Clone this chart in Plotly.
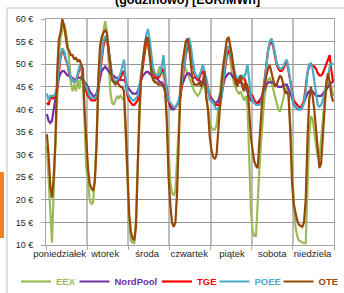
import plotly.graph_objects as go

days = ["poniedziałek", "wtorek", "środa", "czwartek", "piątek", "sobota", "niedziela"]
y_ticks = [10, 15, 20, 25, 30, 35, 40, 45, 50, 55, 60]

EEX = [
    32, 25, 15, 10.5, 22, 33, 44, 52, 56, 57.5, 59, 57.5, 55, 51, 46, 44, 45.5, 44, 46.5, 44.5, 47.5, 47, 36, 27,
    24, 20, 19, 19.5, 25, 35, 45, 52, 55, 57, 59.5, 57.5, 50, 44, 41.5, 41, 42, 43, 42.5, 43, 42.5, 42, 34, 22,
    15, 11, 10.5, 10.4, 16, 28, 40, 47, 51, 53, 54.5, 54, 51.5, 48.5, 47, 46.5, 47, 48.5, 49.5, 48.5, 47.5, 45.5, 38, 30,
    24, 21.5, 21, 22, 29, 38, 44, 47.5, 49.5, 49, 48, 47, 46, 45, 44, 43.5, 43, 43.5, 44.5, 45, 45.5, 43, 40, 37,
    36, 35.5, 35.5, 36.5, 40, 44, 47.5, 50, 52, 53.5, 53, 51, 48, 46, 45, 44, 43.5, 44, 43, 42, 43, 41, 30, 18,
    13, 12, 12, 21, 27, 33, 39, 43, 45, 46.5, 47, 46, 44.5, 43, 41, 40, 39.5, 41, 43, 44, 45, 43, 37, 28,
    20, 14, 12, 11, 10.8, 10.5, 10.4, 10.4, 22, 34, 38.5, 38, 35, 32, 29.5, 29, 33, 38, 42, 44, 45.5, 46, 45, 43,
]
NordPool = [
    39, 37.5, 37, 37.5, 40, 42.5, 45, 47, 48, 48.5, 48.5, 48, 47.5, 47.5, 47, 47, 46.5, 46.5, 47, 47, 47, 46.5, 46, 45.5,
    45, 44, 43.5, 43, 43, 43.5, 45, 47, 48.5, 49, 49.5, 49, 48.5, 48, 47.5, 47.5, 47, 47, 46.5, 46.5, 46.5, 46.5, 46, 45,
    44.5, 44, 43.5, 43.5, 43.5, 44, 45.5, 46.5, 47.5, 48, 48.3, 48.3, 48, 47.5, 47, 47, 47, 46.5, 46, 46, 45.5, 44.5, 43, 41.5,
    40.5, 40, 40, 40.5, 41, 42, 44, 45.5, 46.5, 47.5, 48, 48, 47.5, 47, 47, 47, 46.5, 46.5, 46, 46, 45.5, 45, 44, 43,
    42.5, 42, 41.5, 41.5, 42, 43, 44.5, 46, 47, 47.5, 48, 48, 47.5, 47, 46.5, 46, 46, 46, 45.5, 45.5, 45, 44, 43, 42,
    42, 41.5, 41.3, 41.5, 42, 42.5, 43.5, 44.5, 45.5, 46, 46, 46, 46, 45.5, 45.5, 45, 45, 45, 45.5, 45.5, 45.5, 44.5, 43.5, 42.5,
    41, 40.5, 40.2, 40, 40, 40.5, 41.5, 42.5, 43.5, 44, 44, 44, 43.5, 43, 43, 43, 43, 43.5, 44, 44.5, 45, 45.5, 46, 46,
]
TGE = [
    41.5, 41, 42.5, 42.5, 42.5, 43, 44.5, 48, 51.5, 53, 52.5, 51, 50, 48, 47, 46.5, 46, 46.5, 47.5, 49, 49.5, 46.5, 45, 44,
    43, 42.5, 42, 42, 42, 42.5, 44, 48, 51, 54, 55.5, 56, 53, 50, 47.5, 46.5, 46, 46, 46.5, 47, 48, 48.5, 46, 43,
    42, 41.5, 41, 41, 41.5, 42, 44, 47, 50, 53, 55, 56, 54, 51, 48.5, 47.5, 47, 47, 47.5, 48.5, 49, 47, 44, 42,
    41, 40.5, 40.5, 40.5, 41, 41.5, 43, 46, 49, 52, 53.5, 54, 52.5, 50, 48, 47, 46.5, 47, 48, 48.5, 47, 46.5, 44.5, 43,
    42, 41.5, 41, 41, 41, 41.5, 43, 46, 49.5, 52, 53, 52.5, 50.5, 48.5, 47, 46.5, 46, 46.5, 47, 47, 46, 45, 44, 43.5,
    43, 42, 41.5, 41.5, 41.5, 42, 43.5, 46.5, 50, 53, 54.5, 55, 54, 52, 50, 49, 48.5, 48.5, 49, 50, 50.5, 48.5, 46, 43.5,
    42, 41.5, 41, 40.5, 40.5, 41, 42, 45, 48, 49.5, 50, 49.5, 49.5, 49, 48, 47.5, 47.5, 48, 49, 50, 51, 52, 48.5, 46,
]
POEE = [
    43.5, 42, 43, 43, 43, 43.5, 45, 49, 52, 53.5, 53, 51.5, 50, 48.5, 47, 46.5, 46, 46.5, 48, 49.5, 50, 47, 45.5, 45,
    44, 43, 42.5, 42.5, 42.5, 43, 45, 49, 52, 55, 56, 56.5, 53.5, 50, 47.5, 46.5, 46, 46.5, 47, 48, 49.5, 51, 47, 43.5,
    43, 42.5, 42, 42, 42.5, 43, 45, 48, 51.5, 54.5, 56.5, 57.8, 55.5, 52, 49, 48, 47.5, 47.5, 48, 49.5, 52, 48, 44, 42,
    41.5, 41, 40.5, 40.5, 41, 42, 44, 47, 50, 53, 55, 55.8, 54, 51, 48.5, 47.5, 47, 47.5, 48.5, 50, 48, 47, 44, 42,
    42, 41.5, 40.5, 40, 40, 40.5, 43, 47, 51, 53.5, 54, 53, 51, 49, 47.5, 47, 47, 47.5, 47.5, 47, 48, 50, 46, 43,
    42, 41.5, 41, 41, 41, 41.5, 43, 46, 50, 53, 55, 55.7, 54.5, 52.5, 50.5, 49.5, 49, 49, 49.5, 50.5, 51, 49, 46, 43,
    41, 40.5, 40.5, 40, 40, 40.5, 41.5, 44, 48, 50, 50.2, 49, 46, 43, 41, 40.6, 41, 42, 43.5, 45, 47, 49.5, 50.2, 50,
]
OTE = [
    34.5, 30, 23, 20.5, 25, 33, 48, 55.5, 57, 60, 58.5, 56, 53.5, 53, 52, 52, 51, 51.5, 50.5, 51, 50, 49, 40, 32,
    27, 23.5, 22.5, 22, 24, 32, 47, 54, 56, 57, 57.5, 57, 53, 49, 46.5, 46, 45.5, 46, 45.5, 45, 45, 44, 36, 24,
    17, 13, 11.5, 11, 14, 27, 40, 47, 51, 54, 56, 55.5, 52, 48, 46.5, 46, 46, 45.5, 45.5, 45.5, 45, 44, 37, 25,
    19, 15, 14, 15, 22, 35, 45, 50, 53, 55, 55.7, 54, 50, 46.5, 45.5, 45.5, 45.5, 46, 45, 46, 48.5, 42.5, 40, 34,
    31, 29.5, 29, 30, 36, 42, 46, 50, 53, 55.5, 56, 54, 52, 49, 46, 45, 46.5, 47.5, 45, 44, 46, 45, 40, 34,
    31, 28.5, 27.5, 27, 33, 40, 44, 45.5, 47, 49, 49.8, 48, 46, 45, 45.5, 46.5, 47.5, 47, 45, 43.5, 44, 43, 35, 24,
    19, 17, 15.5, 14.5, 14.2, 14, 15, 20, 33, 42, 45, 43, 40, 36, 32, 27, 28, 35, 42, 46, 48, 46, 43, 41.7,
]

series = [
    ("EEX", EEX, "#9BBB59"),
    ("NordPool", NordPool, "#7030A0"),
    ("TGE", TGE, "#FF0000"),
    ("POEE", POEE, "#4BACC6"),
    ("OTE", OTE, "#984807"),
]
# left edge (px) of each legend entry
legend_px = [16, 74.5, 157, 214.5, 278.5]

PL, PR, PT, PB = 46, 10, 19, 48
W, H = 344, 293
pw, ph = W - PL - PR, H - PT - PB

hours = list(range(len(EEX)))
fig = go.Figure()
legend_layouts = {}
for i, (name, vals, color) in enumerate(series):
    lname = "legend" if i == 0 else f"legend{i + 1}"
    fig.add_trace(go.Scatter(
        x=hours, y=vals, mode="lines", line=dict(color=color, width=2.2),
        name=f"<b><span style='color:{color}'>{name}</span></b>",
        legend=lname,
    ))
    legend_layouts[lname] = dict(
        orientation="h", x=(legend_px[i] - PL) / pw, xanchor="left",
        y=-(281.5 - (H - PB)) / ph, yanchor="middle",
        font=dict(size=9.5), bgcolor="rgba(0,0,0,0)", borderwidth=0, itemwidth=30,
    )

day_tick_pos = [7.5, 34, 58.5, 83, 108, 131.5, 155]
day_bounds = [24 * i - 0.5 for i in range(len(days) + 1)]

fig.update_layout(
    width=W, height=H,
    margin=dict(l=PL, r=PR, t=PT, b=PB, autoexpand=False),
    paper_bgcolor="white", plot_bgcolor="white",
    font=dict(family="Liberation Sans, Arial, sans-serif", size=9, color="#262626"),
    showlegend=True,
    xaxis=dict(
        range=[-0.5, 167.5], tickmode="array", tickvals=day_tick_pos, ticktext=days,
        tickangle=0, ticks="", showgrid=False, showline=True, linecolor="#A6A6A6", linewidth=1,
        mirror=True, tickfont=dict(size=9.5), zeroline=False,
        minor=dict(tickmode="array", tickvals=day_bounds, showgrid=True, gridcolor="#BDBDBD",
                   gridwidth=1.5, ticks="outside", ticklen=4, tickcolor="#A6A6A6"),
    ),
    yaxis=dict(
        range=[10, 60], tickmode="array", tickvals=y_ticks,
        ticktext=[f"{v} €" for v in y_ticks],
        showgrid=True, gridcolor="#959595", gridwidth=1, zeroline=False,
        showline=True, linecolor="#A6A6A6", mirror=True,
        ticks="outside", ticklen=4, tickcolor="#A6A6A6", ticklabelstandoff=6,
    ),
    annotations=[dict(
        text="<b>(godzinowo) [EUR/MWh]</b>", xref="paper", yref="paper",
        x=0.49, y=1 + (PT - 0.1) / ph, xanchor="center", yanchor="middle", showarrow=False,
        font=dict(size=12.5, color="#000000"),
    )],
    shapes=[
        dict(type="rect", xref="paper", yref="paper", x0=(7 - PL) / pw, x1=1.3, y0=-0.4,
             y1=1 + (PT - 8) / ph,
             line=dict(color="#BFBFBF", width=1), fillcolor="rgba(0,0,0,0)", layer="below"),
        dict(type="rect", xref="paper", yref="paper", x0=(0 - PL) / pw, x1=(4 - PL) / pw,
             y0=(H - PB - 238) / ph, y1=(H - PB - 172) / ph,
             line=dict(width=0), fillcolor="#F58220"),
    ],
    **legend_layouts,
)

fig.write_html("out.html", config={"displayModeBar": False},
               post_script="document.body.style.margin='0';")
